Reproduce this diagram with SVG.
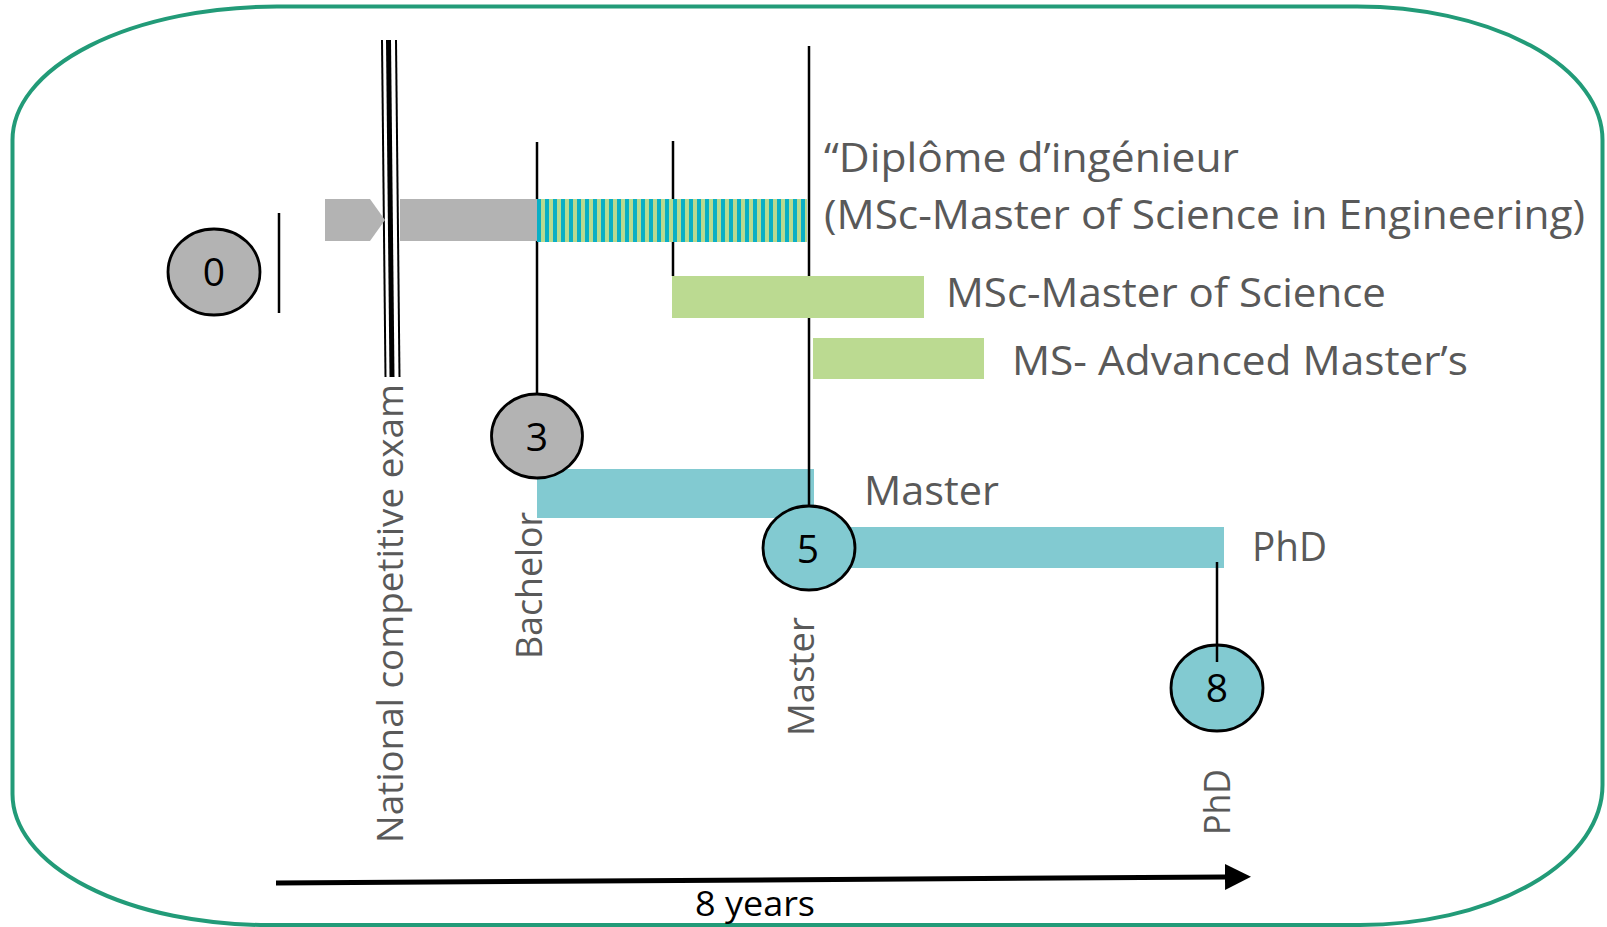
<svg xmlns="http://www.w3.org/2000/svg" width="1607" height="927" viewBox="0 0 1607 927">
<style>
.lbl{font-family:"Open Sans","Liberation Sans",sans-serif;fill:#595959;}
.big{font-size:41px;}
.vert{font-size:36px;}
.num{font-family:"Open Sans","Liberation Sans",sans-serif;font-size:39px;fill:#000;text-anchor:middle;}
.conn{stroke:#000;stroke-width:2.5;fill:none;}
.gray{fill:#b3b3b3;}
.teal{fill:#82cad1;}
.green{fill:#bbda91;}
.circ{stroke:#000;stroke-width:2.8;}
</style>
<defs>
<pattern id="stripes" patternUnits="userSpaceOnUse" x="537" y="0" width="8" height="10">
<rect x="0" y="0" width="4" height="10" fill="#0aafc5"/>
<rect x="4" y="0" width="4" height="10" fill="#b9d98f"/>
</pattern>
<marker id="arrow" markerUnits="userSpaceOnUse" markerWidth="28" markerHeight="28" refX="0" refY="13" orient="auto" viewBox="0 0 28 26">
<path d="M0,0 L26,13 L0,26 Z" fill="#000"/>
</marker>
</defs>
<rect x="0" y="0" width="1607" height="927" fill="#fff"/>
<g id="frame">
<path d="M277,6.5 L1357,6.5 A245.5,133.5 0 0 1 1602.5,140 L1602.5,785 A242.5,140 0 0 1 1360,925 L267,925 A254.5,131 0 0 1 12.5,794 L12.5,140 A264.5,133.5 0 0 1 277,6.5 Z" fill="none" stroke="#229b78" stroke-width="4"/>
</g>
<g id="bar-master"><rect class="teal" x="537" y="469" width="277" height="49"/></g>
<g id="bar-phd"><rect class="teal" x="809" y="527" width="415" height="41"/></g>
<g id="connectors">
<line class="conn" x1="279" y1="213" x2="279" y2="313"/>
<line class="conn" x1="537" y1="142" x2="537" y2="394"/>
<line class="conn" x1="673" y1="141" x2="673" y2="276"/>
<line class="conn" x1="809" y1="46" x2="809" y2="506"/>
<line x1="276" y1="883" x2="1225" y2="877" stroke="#000" stroke-width="5" marker-end="url(#arrow)"/>
</g>
<g id="exam-lines">
<line x1="382" y1="40" x2="385.5" y2="377" stroke="#000" stroke-width="2"/>
<line x1="388.5" y1="40" x2="392" y2="377" stroke="#000" stroke-width="5"/>
<line x1="396" y1="40" x2="399.5" y2="377" stroke="#000" stroke-width="2"/>
</g>
<g id="prep">
<polygon class="gray" points="325,199 370,199 385,220 370,241 325,241"/>
<rect class="gray" x="400" y="199" width="137" height="42"/>
</g>
<g id="bar-ingenieur"><rect x="537" y="199" width="270" height="43" fill="url(#stripes)"/></g>
<g id="bar-msc"><rect class="green" x="672" y="276" width="252" height="42"/></g>
<g id="bar-ms"><rect class="green" x="813" y="338" width="171" height="41"/></g>
<g id="node-0">
<ellipse class="circ gray" cx="214" cy="272" rx="46" ry="43"/>
<text class="num" x="214" y="286">0</text>
</g>
<g id="node-3">
<ellipse class="circ gray" cx="537" cy="436" rx="45.5" ry="42"/>
<text class="num" x="537" y="451">3</text>
</g>
<g id="node-5">
<ellipse class="circ teal" cx="809" cy="548" rx="46" ry="42"/>
<text class="num" x="808" y="563">5</text>
</g>
<g id="node-8">
<ellipse class="circ teal" cx="1217" cy="688" rx="46" ry="43"/>
<text class="num" x="1217" y="702">8</text>
</g>
<g id="connector-phd">
<line class="conn" x1="1217" y1="562" x2="1217" y2="662"/>
</g>
<g id="labels">
<text class="lbl big" x="824" y="172" textLength="415" lengthAdjust="spacingAndGlyphs">“Diplôme d’ingénieur</text>
<text class="lbl big" x="824" y="229" textLength="761" lengthAdjust="spacingAndGlyphs">(MSc-Master of Science in Engineering)</text>
<text class="lbl big" x="946" y="307" textLength="440" lengthAdjust="spacingAndGlyphs">MSc-Master of Science</text>
<text class="lbl big" x="1012" y="375" textLength="456" lengthAdjust="spacingAndGlyphs">MS- Advanced Master’s</text>
<text class="lbl big" x="864" y="505" textLength="135" lengthAdjust="spacingAndGlyphs">Master</text>
<text class="lbl big" x="1252" y="561" textLength="75" lengthAdjust="spacingAndGlyphs">PhD</text>
<text class="lbl vert" transform="translate(403,843) rotate(-90)" textLength="459" lengthAdjust="spacingAndGlyphs">National competitive exam</text>
<text class="lbl vert" transform="translate(542,659) rotate(-90)" textLength="147" lengthAdjust="spacingAndGlyphs">Bachelor</text>
<text class="lbl vert" transform="translate(814,736) rotate(-90)" textLength="119" lengthAdjust="spacingAndGlyphs">Master</text>
<text class="lbl vert" transform="translate(1230,835) rotate(-90)" textLength="66" lengthAdjust="spacingAndGlyphs">PhD</text>
<text x="695" y="916" font-family="Open Sans, Liberation Sans, sans-serif" font-size="35" fill="#000" textLength="120" lengthAdjust="spacingAndGlyphs">8 years</text>
</g>
</svg>
